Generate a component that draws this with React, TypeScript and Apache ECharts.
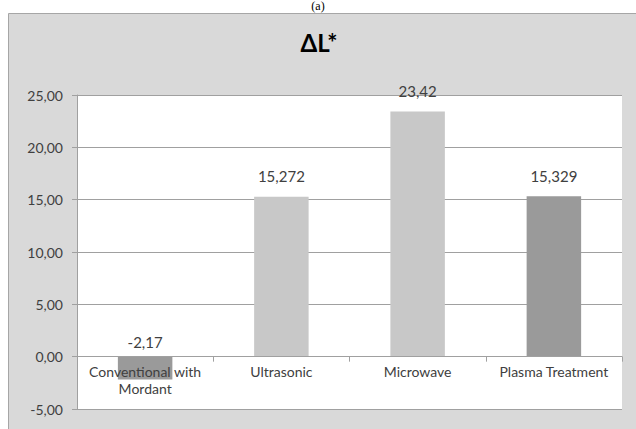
import React, { useEffect, useRef } from "react";
import * as echarts from "echarts";

const categories = ["Conventional with\nMordant", "Ultrasonic", "Microwave", "Plasma Treatment"];
const deltaL = [-2.17, 15.272, 23.42, 15.329];
const labelTexts = ["-2,17", "15,272", "23,42", "15,329"];
const barColors = ["#9a9a9a", "#c8c8c8", "#c8c8c8", "#9a9a9a"];
const yMin = -5;
const yMax = 25;
const yStep = 5;

export default function App() {
  const ref = useRef<HTMLDivElement>(null);
  useEffect(() => {
    if (!ref.current) return;
    const chart = echarts.init(ref.current, undefined, { renderer: "svg" });
    const font = "Lato, 'Open Sans', sans-serif";
    const gridTop = 95;
    const gridBottom = 20;
    const plotH = 429 - gridTop - gridBottom;
    const zeroOffset = -(0 - yMin) / (yMax - yMin) * plotH;
    chart.setOption({
      animation: false,
      backgroundColor: "#ffffff",
      graphic: [
        {
          type: "rect",
          z: -10,
          silent: true,
          shape: { x: 8.5, y: 13.5, width: 640, height: 430 },
          style: { fill: "#d9d9d9", stroke: "#a6a6a6", lineWidth: 1 },
        },
        {
          type: "text",
          left: "center",
          top: 0,
          style: { text: "(a)", font: "12px 'Liberation Serif', serif", fill: "#000" },
        },
        {
          type: "text",
          x: 319,
          y: 42,
          style: {
            text: "\u0394L*",
            font: "bold 24px " + font,
            fill: "#000",
            align: "center",
            verticalAlign: "middle",
          },
        },
      ],
      grid: {
        left: 77,
        right: 14,
        top: gridTop,
        bottom: gridBottom,
        outerBoundsMode: "none",
        containLabel: false,
        show: true,
        backgroundColor: "#ffffff",
        borderWidth: 0,
      },
      xAxis: {
        type: "category",
        data: categories,
        position: "bottom",
        offset: zeroOffset,
        z: 5,
        axisLine: { show: true, onZero: false, lineStyle: { color: "#a0a0a0", width: 1 } },
        axisTick: { show: true, length: 5, alignWithLabel: false, lineStyle: { color: "#a0a0a0" } },
        axisLabel: {
          fontFamily: font,
          fontSize: 14,
          color: "#404040",
          margin: 6,
          interval: 0,
          lineHeight: 17,
        },
      },
      yAxis: {
        type: "value",
        min: yMin,
        max: yMax,
        interval: yStep,
        axisLine: { show: true, lineStyle: { color: "#a0a0a0" } },
        axisTick: { show: true, length: 5, lineStyle: { color: "#a0a0a0" } },
        splitLine: { show: true, lineStyle: { color: "#a0a0a0", width: 1 } },
        axisLabel: {
          fontFamily: font,
          fontSize: 14,
          color: "#404040",
          margin: 14,
          formatter: (v: number) => v.toFixed(2).replace(".", ","),
        },
      },
      series: [
        {
          type: "bar",
          barWidth: "40%",
          z: 2,
          data: deltaL.map((v, i) => ({
            value: v,
            itemStyle: { color: barColors[i] },
            label: {
              show: true,
              position: v < 0 ? "insideBottom" : "top",
              distance: v < 0 ? 0 : 13,
              offset: v < 0 ? [0, -30] : [0, 0],
              formatter: labelTexts[i],
              fontFamily: font,
              fontSize: 15,
              color: "#404040",
            },
          })),
        },
      ],
    });
    return () => chart.dispose();
  }, []);
  return (
    <div
      ref={ref}
      style={{ position: "fixed", left: 0, top: 0, width: 636, height: 429 }}
    />
  );
}
